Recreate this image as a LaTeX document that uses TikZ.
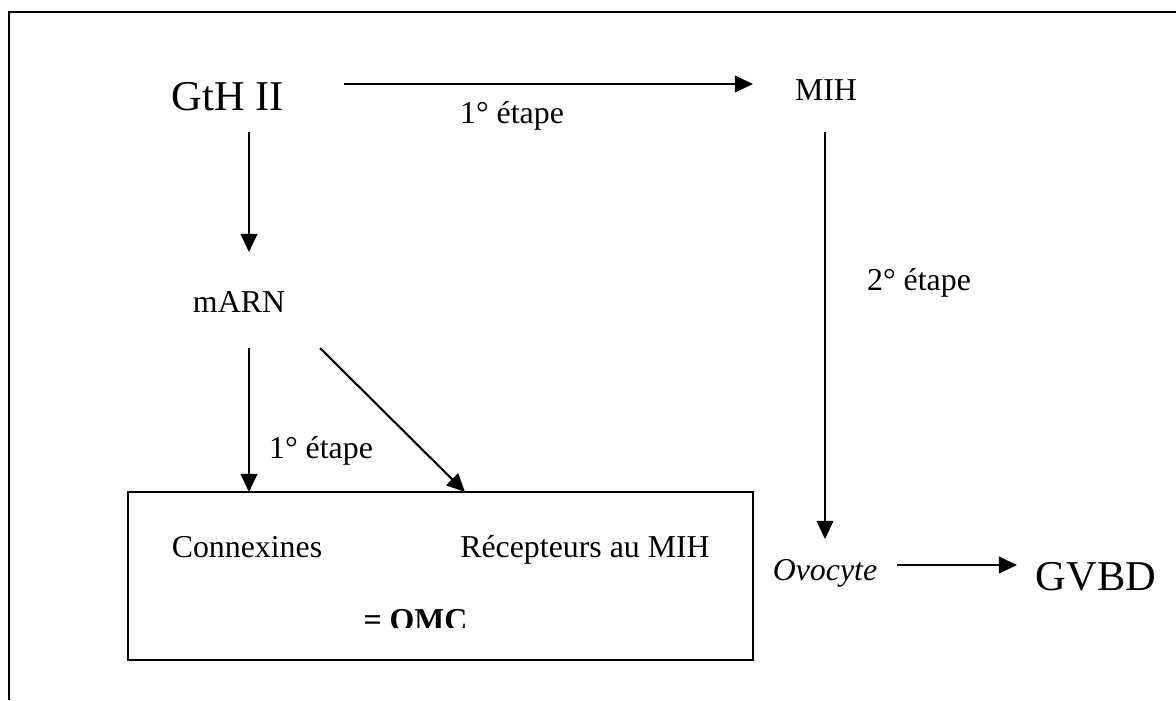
\documentclass[tikz,border=0pt]{standalone}
\usepackage{fontspec}
\setmainfont{Liberation Serif}
\usetikzlibrary{arrows.meta}
\begin{document}
\begin{tikzpicture}[x=0.01325cm,y=-0.01325cm,
  lbl/.style={anchor=base,inner sep=0pt,font=\fontsize{12}{14}\selectfont},
  big/.style={anchor=base,inner sep=0pt,font=\fontsize{16}{19}\selectfont},
  arr/.style={line width=0.8pt,-{Triangle[length=0.24cm,width=0.22cm]}},
  frame/.style={line width=1pt}]
\useasboundingbox (0,0) rectangle (1176,700);
% outer frame (only top and left edges visible)
\draw[frame] (9,700) -- (9,12) -- (1176,12);
% box
\node[draw,line width=0.8pt,minimum width=8.281cm,minimum height=2.226cm,
      inner sep=0pt,outer sep=0pt,anchor=north west] (omcbox) at (128,492) {};
% nodes
\node[big] (gth) at (228,110) {GtH II};
\node[lbl] (mih) at (826,100) {MIH};
\node[lbl] (et1) at (512,123) {1° étape};
\node[lbl] (et2) at (919,290) {2° étape};
\node[lbl] (marn) at (239,312) {mARN};
\node[lbl] (et1b) at (321,458) {1° étape};
\node[lbl] (con) at (247,557) {Connexines};
\node[lbl] (rec) at (585,557) {Récepteurs au MIH};
\begin{scope}
  \clip (300,590) rectangle (520,627);
  \node[lbl,font=\fontsize{12}{14}\selectfont\bfseries] (omc) at (415.5,630) {= OMC};
\end{scope}
\node[lbl,font=\fontsize{12}{14}\selectfont\itshape] (ovo) at (825,580) {Ovocyte};
\node[big] (gvbd) at (1096,590) {GVBD};
% connector endpoints
\coordinate (a1s) at (344,84); \coordinate (a1e) at (753,84);
\coordinate (a2s) at (249,132); \coordinate (a2e) at (249,252);
\coordinate (a3s) at (249,348); \coordinate (a3e) at (249,492);
\coordinate (a4s) at (320,348); \coordinate (a4e) at (465,492);
\coordinate (a5s) at (825,132); \coordinate (a5e) at (825,539);
\coordinate (a6s) at (897,565); \coordinate (a6e) at (1017,565);
\draw[arr] (a1s) -- (a1e);
\draw[arr] (a2s) -- (a2e);
\draw[arr] (a3s) -- (a3e);
\draw[arr] (a4s) -- (a4e);
\draw[arr] (a5s) -- (a5e);
\draw[arr] (a6s) -- (a6e);
\end{tikzpicture}
\end{document}
